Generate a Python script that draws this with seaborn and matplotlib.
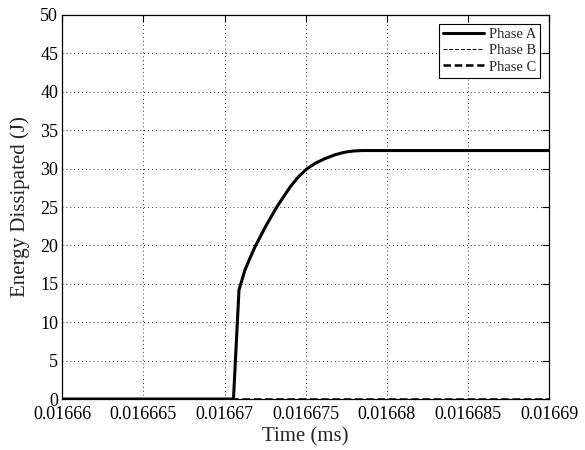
import numpy as np
import pandas as pd
import matplotlib
matplotlib.use("Agg")
import matplotlib.pyplot as plt
import seaborn as sns

# data (time in ms, energy in J)
time_a = [0.01666, 0.01667055, 0.01667089, 0.01667126, 0.0166716, 0.01667192,
          0.01667254, 0.01667322, 0.01667404, 0.0166745, 0.01667506,
          0.0166756, 0.01667619, 0.01667681, 0.0166773, 0.01667761,
          0.016678, 0.0166785, 0.01669]
energy_a = [0.0, 0.0, 14.2, 16.8, 18.5, 20.0, 22.5, 25.0, 27.6, 28.8, 29.95,
            30.7, 31.3, 31.8, 32.08, 32.2, 32.3, 32.35, 32.35]
time_bc = [0.01666, 0.01669]
energy_b = [0.0, 0.0]
energy_c = [0.0, 0.0]

xticks = [0.01666, 0.016665, 0.01667, 0.016675, 0.01668, 0.016685, 0.01669]
xtick_labels = ["0.01666", "0.016665", "0.01667", "0.016675", "0.01668", "0.016685", "0.01669"]
yticks = [0, 5, 10, 15, 20, 25, 30, 35, 40, 45, 50]

sns.set_style("white")
plt.rcParams['font.family'] = ['Liberation Serif', 'DejaVu Serif']

df_a = pd.DataFrame({"t": time_a, "e": energy_a})
df_b = pd.DataFrame({"t": time_bc, "e": energy_b})
df_c = pd.DataFrame({"t": time_bc, "e": energy_c})

fig = plt.figure(figsize=(5.85, 4.5), dpi=100)
ax = fig.add_axes([0.1065, 0.1133, 0.832, 0.8534])

sns.lineplot(data=df_a, x="t", y="e", ax=ax, color="black", lw=2.2, label="Phase A")
sns.lineplot(data=df_b, x="t", y="e", ax=ax, color="black", lw=0.7, ls=(0, (4, 2)), label="Phase B")
sns.lineplot(data=df_c, x="t", y="e", ax=ax, color="black", lw=1.8, ls=(0, (3, 1.5)), label="Phase C")

ax.set_xlim(xticks[0], xticks[-1])
ax.set_ylim(0, 50)
ax.set_xticks(xticks)
ax.set_xticklabels(xtick_labels)
ax.set_yticks(yticks)

ax.grid(True, ls=(0, (1, 3)), color="black", lw=0.7, alpha=0.8)
ax.tick_params(direction="in", top=True, right=True, length=5, width=0.8,
               labelsize=13, colors="black", pad=3)
ax.tick_params(axis="x", pad=5)
for s in ax.spines.values():
    s.set_color("black")
    s.set_linewidth(0.9)

ax.set_xlabel("Time (ms)", fontsize=15, labelpad=3)
ax.set_ylabel("Energy Dissipated (J)", fontsize=15, labelpad=7)

leg = ax.legend(loc="upper right", fontsize=10.5, frameon=True, fancybox=False,
                edgecolor="black", framealpha=1, borderpad=0.3, labelspacing=0.2,
                handlelength=2.8, handletextpad=0.3, borderaxespad=0.6)
leg.get_frame().set_linewidth(0.8)

fig.savefig("out.png", dpi=100)
